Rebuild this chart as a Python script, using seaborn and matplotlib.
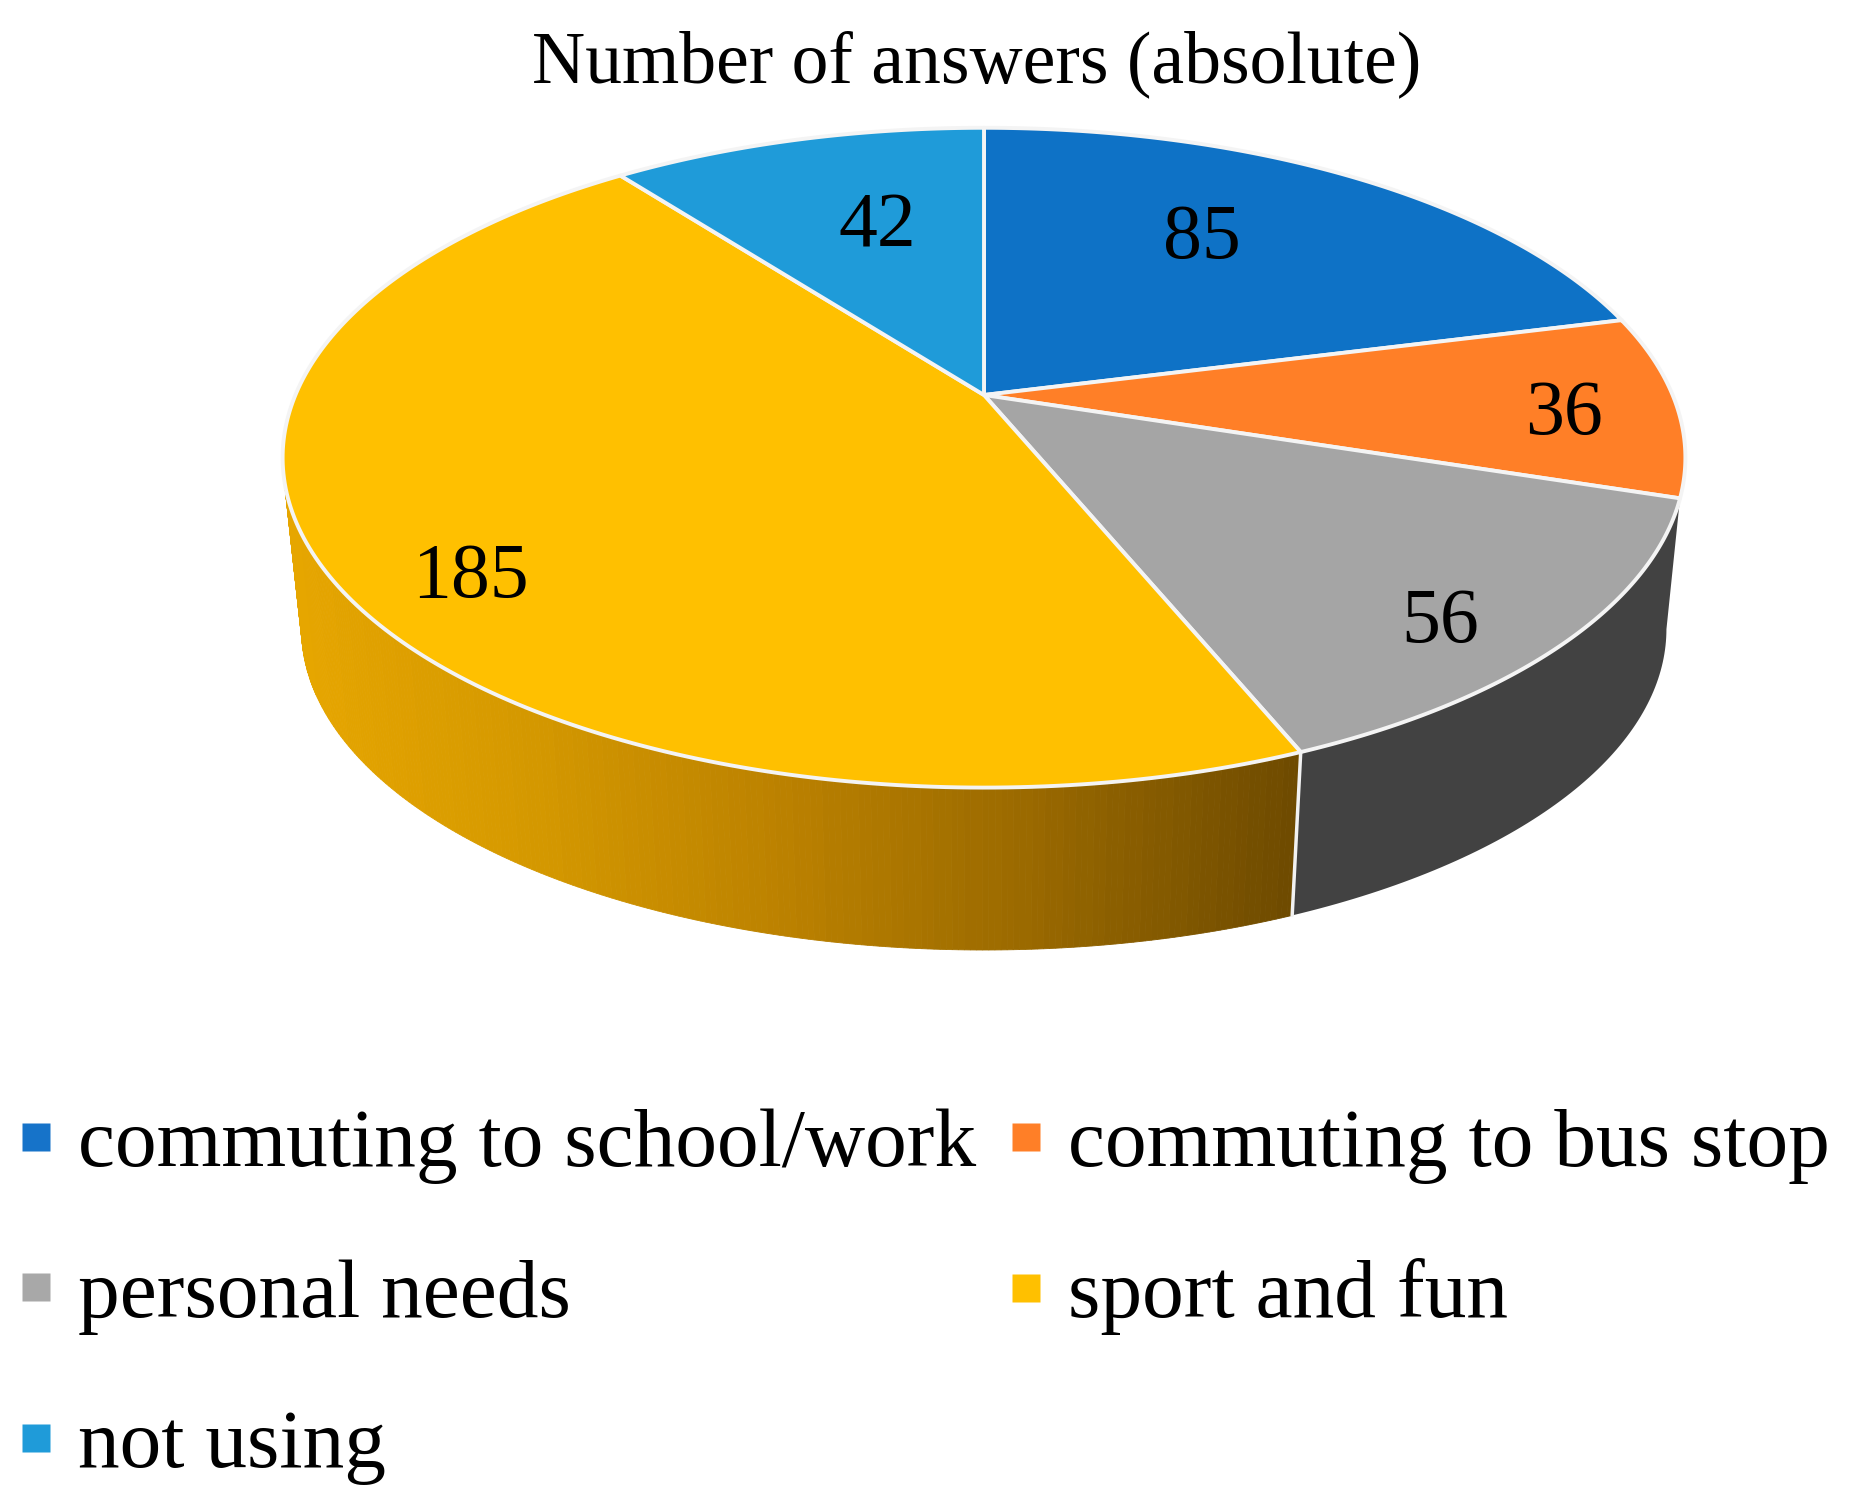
import numpy as np
import matplotlib
matplotlib.use('Agg')
import matplotlib.pyplot as plt
from matplotlib.lines import Line2D
import seaborn as sns

# chart values
categories = ['commuting to school/work', 'commuting to bus stop', 'personal needs', 'sport and fun', 'not using']
answers = [85, 36, 56, 185, 42]
top_colors = ['#0E72C6', '#FF7F27', '#A5A5A5', '#FFC000', '#1F9BD9']
legend_colors = ['#1673C9', '#FF7F27', '#A8A8A8', '#FFC000', '#1F9BD9']
title = 'Number of answers (absolute)'

# label anchors in pixels, one per slice
label_x = [1202, 1564, 1440, 470, 877]
label_y = [239, 415, 623, 578, 228]

# projection of the disc, in pixels
CX, CY = 984, 395
A, B, K = 688.6, 318, 0.19
DROP, SHRINK = 173, 0.973
WALL_START, WALL_END = 101, 259

sns.set_theme(style='white')
plt.rcParams['font.family'] = ['Liberation Serif', 'DejaVu Serif']
plt.rcParams['text.color'] = 'black'


def project(theta_deg, lower=False):
    t = np.radians(theta_deg)
    u, v = np.sin(t), np.cos(t)
    w = 1 + K * v
    x, y = A * u / w, -B * v / w
    if lower:
        return CX + SHRINK * x, CY + DROP + SHRINK * y
    return CX + x, CY + y


fig = plt.figure(figsize=(18.55, 15.10), dpi=100)
ax = fig.add_axes([0, 0, 1, 1])
ax.set_xlim(0, 1855)
ax.set_ylim(1510, 0)
ax.axis('off')

edges = np.cumsum([0] + answers) / sum(answers) * 360

# side wall: gray slice, lower rim runs on to the tangent point
xu, yu = project(np.linspace(edges[2], edges[3], 80))
xl, yl = project(np.linspace(WALL_START, edges[3], 80), lower=True)
ax.fill(np.r_[xu, xl[::-1]], np.r_[yu, yl[::-1]], color='#424242', lw=0, zorder=2)

# side wall: yellow slice with its gradient
t_yellow = np.linspace(edges[3], WALL_END, 241)
ramp = sns.blend_palette(['#6F4B00', '#986800', '#BA8000', '#D39700', '#E6A600'], 64)
x_right, x_left = project(t_yellow[0])[0], project(t_yellow[-1])[0]
for a, b in zip(t_yellow[:-1], t_yellow[1:]):
    xu, yu = project(np.array([a, b]))
    xl, yl = project(np.array([a, b]), lower=True)
    f = (x_right - xu.mean()) / (x_right - x_left)
    c = ramp[min(int(f * 64), 63)]
    ax.fill(np.r_[xu, xl[::-1]], np.r_[yu, yl[::-1]], color=c, ec=c, lw=0.6, zorder=2)

# seam between the two walls
sx = [project(edges[3])[0], project(edges[3], lower=True)[0]]
sy = [project(edges[3])[1], project(edges[3], lower=True)[1]]
ax.plot(sx, sy, color='#F2F2F2', lw=2.5, zorder=3)

# top of the pie
for i, col in enumerate(top_colors):
    t = np.linspace(edges[i], edges[i + 1], 200)
    x, y = project(t)
    ax.fill(np.r_[CX, x], np.r_[CY, y], facecolor=col, edgecolor='#F4F4F4', lw=2.8,
            joinstyle='round', zorder=4)

for n, x, y in zip(answers, label_x, label_y):
    ax.text(x, y, str(n), fontsize=56, color='black', ha='center', va='center', zorder=5)

ax.text(977, 64, title, fontsize=53, color='black', ha='center', va='center')

# legend runs row by row in the picture, matplotlib fills columns
order = [0, 2, 4, 1, 3]
handles = [Line2D([], [], ls='', marker='s', ms=20, mfc=legend_colors[i], mec='none') for i in order]
ax.legend(handles, [categories[i] for i in order], ncol=2, loc='lower left',
          bbox_to_anchor=(0.0, 0.0093), frameon=False, fontsize=60, handlelength=0.6,
          handletextpad=0.21, columnspacing=0.29, labelspacing=0.89, borderpad=0.13, borderaxespad=0)

fig.savefig('out.png', dpi=100)
